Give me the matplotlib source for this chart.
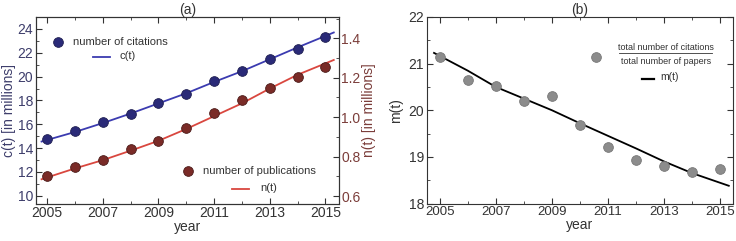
import matplotlib.pyplot as plt
from matplotlib.ticker import MultipleLocator

plt.rcParams['font.family'] = ['Liberation Sans', 'DejaVu Sans']

years = [2005, 2006, 2007, 2008, 2009, 2010, 2011, 2012, 2013, 2014, 2015]
citations = [14.8, 15.45, 16.15, 16.9, 17.75, 18.55, 19.6, 20.5, 21.5, 22.35, 23.35]
publications = [0.700, 0.748, 0.784, 0.836, 0.878, 0.945, 1.020, 1.086, 1.150, 1.204, 1.252]
ratio = [21.15, 20.65, 20.52, 20.2, 20.3, 19.68, 19.22, 18.93, 18.8, 18.68, 18.73]

fit_years = [2004.8, 2006, 2007, 2008, 2009, 2010, 2011, 2012, 2013, 2014, 2015.3]
c_fit = [14.55, 15.35, 16.1, 16.9, 17.75, 18.6, 19.55, 20.45, 21.45, 22.45, 23.7]
n_fit = [0.685, 0.74, 0.782, 0.83, 0.88, 0.94, 1.005, 1.07, 1.145, 1.215, 1.29]
m_fit = [21.23, 20.85, 20.5, 20.25, 20.0, 19.72, 19.45, 19.18, 18.9, 18.65, 18.38]

blue_dot = '#2a2a78'
blue_line = '#3b3bb0'
red_dot = '#7a2b27'
red_line = '#d9473f'
axis_blue = '#3d3d6b'
axis_red = '#7b3d3a'
gray = '#333333'

fig = plt.figure(figsize=(7.36, 2.41), dpi=100)
W, H = 736, 241


def box(x0, y0, x1, y1):
    return [x0 / W, 1 - y1 / H, (x1 - x0) / W, (y1 - y0) / H]


def style(ax):
    ax.tick_params(which='both', direction='in', top=True, labelsize=10, colors=gray, pad=2)
    ax.tick_params(which='major', length=4)
    ax.tick_params(which='minor', length=2)
    for s in ax.spines.values():
        s.set_color(gray)
        s.set_linewidth(0.8)


# ---- panel (a)
ax1 = fig.add_axes(box(36, 17, 338.5, 203.5))
ax2 = ax1.twinx()
ax1.plot(fit_years, c_fit, color=blue_line, lw=1.3, zorder=2)
ax1.plot(years, citations, 'o', ms=7, mfc=blue_dot, mec='#1e1e50', mew=0.6, zorder=3)
ax2.plot(fit_years, n_fit, color=red_line, lw=1.3, zorder=2)
ax2.plot(years, publications, 'o', ms=7, mfc=red_dot, mec='#4a1a18', mew=0.6, zorder=3)
ax1.set_xlim(2004.6, 2015.47)
ax1.set_ylim(9.35, 25.0)
ax2.set_ylim(0.562, 1.508)
style(ax1)
style(ax2)
ax2.tick_params(which='both', direction='in', right=True)
ax1.tick_params(axis='y', which='both', right=False, labelcolor=axis_blue)
ax2.tick_params(axis='y', which='both', labelcolor=axis_red)
ax1.set_xticks([2005, 2007, 2009, 2011, 2013, 2015])
ax1.xaxis.set_minor_locator(MultipleLocator(1))
ax1.set_yticks([10, 12, 14, 16, 18, 20, 22, 24])
ax1.yaxis.set_minor_locator(MultipleLocator(1))
ax2.set_yticks([0.6, 0.8, 1.0, 1.2, 1.4])
ax2.set_yticklabels(['0.6', '0.8', '1.0', '1.2', '1.4'])
ax2.yaxis.set_minor_locator(MultipleLocator(0.1))
ax1.set_xlabel('year', fontsize=10, color=gray, labelpad=0)
ax1.set_ylabel('c(t) [in millions]', fontsize=10, color=axis_blue, labelpad=1)
ax2.set_ylabel('n(t) [in millions]', fontsize=10, color=axis_red, labelpad=1)
ax1.set_title('(a)', fontsize=10, color=gray, pad=2)

# legend (a)
t = ax1.transAxes
ax1.plot([0.072], [0.865], 'o', ms=7, mfc=blue_dot, mec='#1e1e50', mew=0.6, transform=t, clip_on=False)
ax1.text(0.123, 0.865, 'number of citations', fontsize=8, color=gray, va='center', transform=t)
ax1.plot([0.188, 0.243], [0.785, 0.785], color=blue_line, lw=1.3, transform=t)
ax1.text(0.275, 0.79, 'c(t)', fontsize=8, color=gray, va='center', transform=t)
ax1.plot([0.503], [0.172], 'o', ms=7, mfc=red_dot, mec='#4a1a18', mew=0.6, transform=t, clip_on=False)
ax1.text(0.552, 0.172, 'number of publications', fontsize=8, color=gray, va='center', transform=t)
ax1.plot([0.648, 0.703], [0.08, 0.08], color=red_line, lw=1.3, transform=t)
ax1.text(0.74, 0.085, 'n(t)', fontsize=8, color=gray, va='center', transform=t)

# ---- panel (b)
ax3 = fig.add_axes(box(427, 17, 733, 203.5))
ax3.plot(fit_years, m_fit, color='black', lw=1.3, zorder=2)
ax3.plot(years, ratio, 'o', ms=7, mfc='#8c8c8c', mec='#777777', mew=0.6, zorder=3)
ax3.set_xlim(2004.55, 2015.45)
ax3.set_ylim(18, 22)
style(ax3)
ax3.tick_params(which='both', right=True)
ax3.tick_params(axis='x', labelsize=9.5)
ax3.set_xticks([2005, 2007, 2009, 2011, 2013, 2015])
ax3.xaxis.set_minor_locator(MultipleLocator(1))
ax3.set_yticks([18, 19, 20, 21, 22])
ax3.yaxis.set_minor_locator(MultipleLocator(0.5))
ax3.set_xlabel('year', fontsize=10, color=gray, labelpad=0)
ax3.set_ylabel('m(t)', fontsize=10, color=gray, labelpad=4)
ax3.set_title('(b)', fontsize=10, color=gray, pad=2)

# legend (b)
t = ax3.transAxes
ax3.plot([0.553], [0.785], 'o', ms=7, mfc='#8c8c8c', mec='#777777', mew=0.6, transform=t)
ax3.text(0.78, 0.835, 'total number of citations', fontsize=6.5, color=gray, ha='center', va='center', transform=t)
ax3.plot([0.628, 0.932], [0.808, 0.808], color=gray, lw=0.6, transform=t)
ax3.text(0.78, 0.76, 'total number of papers', fontsize=6.5, color=gray, ha='center', va='center', transform=t)
ax3.plot([0.703, 0.742], [0.67, 0.67], color='black', lw=1.6, transform=t)
ax3.text(0.762, 0.68, 'm(t)', fontsize=7.5, color=gray, va='center', transform=t)

fig.savefig('out.png', dpi=100)
